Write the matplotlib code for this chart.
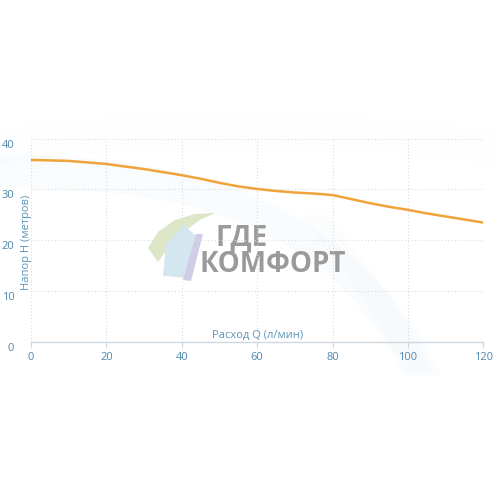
import numpy as np
import matplotlib
matplotlib.use("Agg")
import matplotlib.pyplot as plt
from matplotlib.transforms import ScaledTranslation
from matplotlib.patches import Polygon

plt.rcParams['font.family'] = ['Open Sans', 'DejaVu Sans']

# flow Q (l/min) vs head H (m)
flow = [0, 5, 10, 15, 20, 25, 30, 35, 40, 45, 50, 55, 60,
        65, 70, 75, 80, 85, 90, 95, 100, 105, 110, 115, 120]
head = [35.8, 35.7, 35.6, 35.3, 35.0, 34.5, 34.0, 33.4, 32.8, 32.1, 31.3, 30.6, 30.1,
        29.7, 29.4, 29.2, 28.9, 28.1, 27.3, 26.6, 26.0, 25.3, 24.7, 24.1, 23.5]

x_ticks = [0, 20, 40, 60, 80, 100, 120]
y_ticks = [0, 10, 20, 30, 40]

tick_color = '#4f86ab'
label_color = '#5b95b8'
W = 496

fig = plt.figure(figsize=(4.96, 4.96), dpi=100)

# background swoosh decoration, in pixel coords
bg = fig.add_axes([0, 0, 1, 1], zorder=0)
bg.set_xlim(0, W)
bg.set_ylim(W, 0)
bg.axis('off')
t = np.linspace(0, 1, 150)[:, None]
def bez(p0, p1, p2, p3):
    p0, p1, p2, p3 = map(np.array, (p0, p1, p2, p3))
    return ((1 - t) ** 3 * p0 + 3 * (1 - t) ** 2 * t * p1
            + 3 * (1 - t) * t ** 2 * p2 + t ** 3 * p3)
for i in range(24):
    d = i * 1.4
    c = bez((0, 188 - d), (200, 185 - d), (330 + d, 230 - d * 0.6), (405 + d * 1.1, 375))
    bg.plot(c[:, 0], c[:, 1], color='#9cc6e6', lw=0.5, alpha=0.09)
for i in range(16):
    d = i * 2.2
    c = bez((0, 130 + d), (150, 108 + d), (330, 108 + d), (496, 132 + d))
    bg.plot(c[:, 0], c[:, 1], color='#b5d5ec', lw=0.5, alpha=0.05)
for i in range(20):
    d = i * 1.4
    c = bez((300 + d, 215), (345 + d, 270), (385 + d, 325), (405 + d, 372))
    bg.plot(c[:, 0], c[:, 1], color='#cfe2f1', lw=0.5, alpha=0.08)

# watermark logo
bg.add_patch(Polygon([(148, 248), (158, 232), (175, 220), (195, 214), (215, 213),
                      (200, 220), (183, 232), (168, 248), (158, 262)],
                     closed=True, color='#dde6c6', lw=0))
bg.add_patch(Polygon([(163, 276), (166, 244), (184, 225), (196, 236), (188, 278)],
                     closed=True, color='#d4e6f0', lw=0))
bg.add_patch(Polygon([(183, 280), (196, 234), (203, 234), (191, 281)],
                     closed=True, color='#d0cde6', lw=0))
bg.text(216, 245, 'ГДЕ', fontsize=20, fontweight='bold', color='#9a9a9a',
        ha='left', va='baseline')
bg.text(200, 272, 'КОМФОРТ', fontsize=20, fontweight='bold', color='#9a9a9a',
        ha='left', va='baseline')

left, right = 31 / W, 483.3 / W
bottom, top = (W - 342.3) / W, (W - 138.5) / W
ax = fig.add_axes([left, bottom, right - left, top - bottom], zorder=1)
ax.patch.set_alpha(0)

ax.plot(flow, head, color='#f0a33a', lw=1.8, solid_capstyle='round')

ax.set_xlim(0, 120)
ax.set_ylim(0, 40)
ax.set_xticks(x_ticks)
ax.set_yticks(y_ticks)
ax.grid(True, color='#d8dde2', linestyle=(0, (1, 2)), lw=0.8)
for s in ['top', 'right', 'left']:
    ax.spines[s].set_visible(False)
ax.spines['bottom'].set_color('#cfd8df')
ax.spines['bottom'].set_linewidth(1.0)
ax.tick_params(axis='x', colors='#cfd8df', length=4, labelcolor=tick_color,
               labelsize=8, pad=3)
ax.tick_params(axis='y', length=0, labelcolor=tick_color, labelsize=8, pad=12)
for lab in ax.get_yticklabels():
    lab.set_transform(lab.get_transform() + ScaledTranslation(0, -0.05, fig.dpi_scale_trans))

ax.text(60, 1.4, 'Расход Q (л/мин)', ha='center', va='center', fontsize=8,
        color=label_color)
ax.text(-1.2, 19.7, 'Напор Н (метров)', ha='center', va='center', fontsize=8,
        color=label_color, rotation=90)

fig.savefig('out.png', dpi=100, facecolor='white')
